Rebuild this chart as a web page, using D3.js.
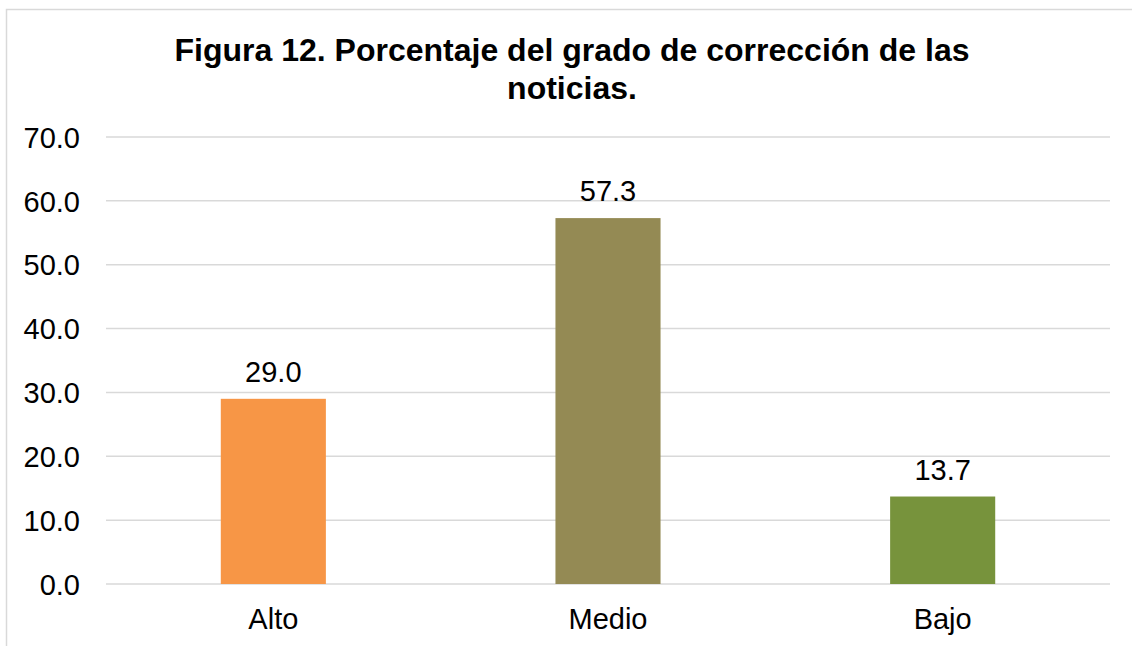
<!DOCTYPE html>
<html><head><meta charset="utf-8">
<script src="https://cdn.jsdelivr.net/npm/d3@7"></script>
<style>body{margin:0;background:#fff}svg{display:block}</style>
</head><body>
<script>
const categories = ["Alto", "Medio", "Bajo"];
const values = [29.0, 57.3, 13.7];
const colors = ["#F79646", "#948A54", "#77933C"];
const yTicks = [0, 10, 20, 30, 40, 50, 60, 70];
const titleLines = ["Figura 12. Porcentaje del grado de corrección de las", "noticias."];

const W = 1132, H = 646;
const svg = d3.select("body").append("svg").attr("width", W).attr("height", H);
const font = "'Liberation Sans', Arial, sans-serif";

// chart frame
svg.append("path").attr("d", `M6.5,${H} V9.5 H${W}`).attr("fill", "none")
  .attr("stroke", "#d9d9d9").attr("stroke-width", 1.5);

const x = d3.scaleBand().domain(categories).range([106, 1110]).paddingInner(0.686).paddingOuter(0.343);
const y = d3.scaleLinear().domain([0, 70]).range([584, 137]);

// gridlines
svg.append("g").selectAll("line").data(yTicks).join("line")
  .attr("x1", 106).attr("x2", 1110)
  .attr("y1", d => y(d)).attr("y2", d => y(d))
  .attr("stroke", "#d9d9d9").attr("stroke-width", 1.5);

// y axis labels
const yAxis = d3.axisLeft(y).tickValues(yTicks).tickFormat(d3.format(".1f")).tickSize(0).tickPadding(0);
const ya = svg.append("g").attr("transform", "translate(80,0)").call(yAxis);
ya.select(".domain").remove();
ya.selectAll("text").attr("font-family", font).attr("font-size", 29).attr("fill", "#000").attr("dy", "0.35em");

// bars
svg.append("g").selectAll("rect").data(values).join("rect")
  .attr("x", (d, i) => x(categories[i]))
  .attr("width", x.bandwidth())
  .attr("y", d => y(d))
  .attr("height", d => y(0) - y(d))
  .attr("fill", (d, i) => colors[i]);

// value labels
svg.append("g").selectAll("text").data(values).join("text")
  .attr("x", (d, i) => x(categories[i]) + x.bandwidth() / 2)
  .attr("y", d => y(d) - 17)
  .attr("text-anchor", "middle")
  .attr("font-family", font).attr("font-size", 29).attr("fill", "#000")
  .text(d => d3.format(".1f")(d));

// x axis labels
const xAxis = d3.axisBottom(x).tickSize(0).tickPadding(0);
const xa = svg.append("g").attr("transform", "translate(0,584)").call(xAxis);
xa.select(".domain").remove();
xa.selectAll("text").attr("font-family", font).attr("font-size", 29).attr("fill", "#000").attr("dy", null).attr("y", 45);

// title
svg.append("text").attr("text-anchor", "middle").attr("font-family", font)
  .attr("font-size", 32).attr("font-weight", "bold").attr("fill", "#000")
  .selectAll("tspan").data(titleLines).join("tspan")
  .attr("x", 572).attr("y", (d, i) => 61 + i * 38).text(d => d);
</script>
</body></html>
